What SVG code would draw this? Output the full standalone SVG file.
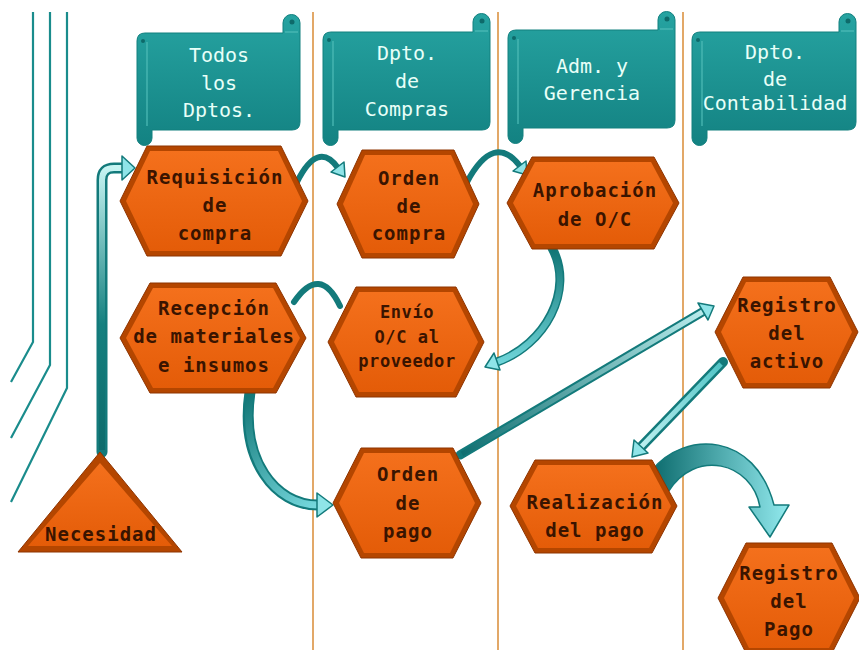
<svg xmlns="http://www.w3.org/2000/svg" width="859" height="650" viewBox="0 0 859 650">
<style>
.lane{stroke:#e2a868;stroke-width:2;fill:none}
.deco{stroke:#1a8c8c;stroke-width:2.2;fill:none}
.hdr{fill:url(#hg);stroke:#12807f;stroke-width:1}
.roll{stroke:#4fbcb8;stroke-width:1.2;fill:none}
.dot{fill:#0e6a6a}
.ht{font-family:"DejaVu Sans Mono","Liberation Mono",monospace;font-size:20px;fill:#e8fff8;text-anchor:middle}
.ho{fill:#b44600;stroke:#8e3400;stroke-width:1}
.hi{fill:url(#og)}
.nt{font-family:"DejaVu Sans Mono","Liberation Mono",monospace;font-size:19px;font-weight:bold;letter-spacing:1px;fill:#3a1400;text-anchor:middle}
.st{font-size:17px;letter-spacing:0.6px}
.cb{stroke:#137a7b;fill:none;stroke-linecap:round}
.ah{fill:#8fe4e8;stroke:#137a7b;stroke-width:1.5;stroke-linejoin:round}
</style>
<defs>
<linearGradient id="hg" x1="0" y1="0" x2="0" y2="1">
<stop offset="0" stop-color="#26a3a1"/>
<stop offset="1" stop-color="#138282"/>
</linearGradient>
<linearGradient id="og" x1="0" y1="0" x2="0" y2="1">
<stop offset="0" stop-color="#f4701c"/>
<stop offset="1" stop-color="#e45c08"/>
</linearGradient>
<linearGradient id="g1" gradientUnits="userSpaceOnUse" x1="0" y1="452" x2="0" y2="168">
<stop offset="0" stop-color="#0d6b6b"/>
<stop offset="0.45" stop-color="#15807f"/>
<stop offset="1" stop-color="#c6f4f2"/>
</linearGradient>
<linearGradient id="g4" gradientUnits="userSpaceOnUse" x1="0" y1="248" x2="0" y2="366">
<stop offset="0" stop-color="#0f7474"/>
<stop offset="1" stop-color="#72d8dc"/>
</linearGradient>
<linearGradient id="g6" gradientUnits="userSpaceOnUse" x1="245" y1="392" x2="330" y2="505">
<stop offset="0" stop-color="#0f7474"/>
<stop offset="1" stop-color="#7adde2"/>
</linearGradient>
<linearGradient id="g7" gradientUnits="userSpaceOnUse" x1="460" y1="455" x2="712" y2="306">
<stop offset="0" stop-color="#0f6e70"/>
<stop offset="1" stop-color="#bff0f0"/>
</linearGradient>
<linearGradient id="g8" gradientUnits="userSpaceOnUse" x1="723" y1="362" x2="633" y2="456">
<stop offset="0" stop-color="#4fc4c6"/>
<stop offset="1" stop-color="#c8f4f4"/>
</linearGradient>
<linearGradient id="g9" gradientUnits="userSpaceOnUse" x1="655" y1="0" x2="785" y2="0">
<stop offset="0" stop-color="#0f6e70"/>
<stop offset="1" stop-color="#8ee6ea"/>
</linearGradient>
</defs>

<rect x="0" y="0" width="859" height="650" fill="#ffffff"/>

<g id="lanes">
<line class="lane" x1="313" y1="12" x2="313" y2="650"/>
<line class="lane" x1="498" y1="12" x2="498" y2="650"/>
<line class="lane" x1="683" y1="12" x2="683" y2="650"/>
</g>

<g id="decoration">
<polyline class="deco" points="33,12 33,342 11,382"/>
<polyline class="deco" points="50,12 50,365 11,438"/>
<polyline class="deco" points="67,12 67,388 11,502"/>
</g>

<g id="header-todos">
<path class="hdr" d="M152,33 L283,33 L283,23 A8.5,8.5 0 0 1 300,23 L300,122 Q300,130 292,130 L152,130 L152,138 A7.5,7.5 0 0 1 137,138 L137,41 Q137,33 145,33 Z"/>
<line class="roll" x1="147" y1="42" x2="147" y2="126"/>
<line class="roll" x1="285" y1="32" x2="298" y2="32"/>
<circle class="dot" cx="143" cy="41" r="2"/>
<circle class="dot" cx="292" cy="22" r="2.5"/>
<text class="ht" x="219" y="62">Todos</text>
<text class="ht" x="219" y="90">los</text>
<text class="ht" x="219" y="117">Dptos.</text>
</g>

<g id="header-compras">
<path class="hdr" d="M338,32 L473,32 L473,22 A8.5,8.5 0 0 1 490,22 L490,122 Q490,130 482,130 L338,130 L338,138 A7.5,7.5 0 0 1 323,138 L323,40 Q323,32 331,32 Z"/>
<line class="roll" x1="333" y1="41" x2="333" y2="126"/>
<line class="roll" x1="475" y1="31" x2="488" y2="31"/>
<circle class="dot" cx="329" cy="40" r="2"/>
<circle class="dot" cx="482" cy="21" r="2.5"/>
<text class="ht" x="407" y="60">Dpto.</text>
<text class="ht" x="407" y="88">de</text>
<text class="ht" x="407" y="116">Compras</text>
</g>

<g id="header-gerencia">
<path class="hdr" d="M523,30 L658,30 L658,20 A8.5,8.5 0 0 1 675,20 L675,120 Q675,128 667,128 L523,128 L523,136 A7.5,7.5 0 0 1 508,136 L508,38 Q508,30 516,30 Z"/>
<line class="roll" x1="518" y1="39" x2="518" y2="124"/>
<line class="roll" x1="660" y1="29" x2="673" y2="29"/>
<circle class="dot" cx="514" cy="38" r="2"/>
<circle class="dot" cx="667" cy="19" r="2.5"/>
<text class="ht" x="592" y="73">Adm. y</text>
<text class="ht" x="592" y="100">Gerencia</text>
</g>

<g id="header-contabilidad">
<path class="hdr" d="M707,32 L839,32 L839,22 A8.5,8.5 0 0 1 856,22 L856,122 Q856,130 848,130 L707,130 L707,138 A7.5,7.5 0 0 1 692,138 L692,40 Q692,32 700,32 Z"/>
<line class="roll" x1="702" y1="41" x2="702" y2="126"/>
<line class="roll" x1="841" y1="31" x2="854" y2="31"/>
<circle class="dot" cx="698" cy="40" r="2"/>
<circle class="dot" cx="848" cy="21" r="2.5"/>
<text class="ht" x="775" y="59">Dpto.</text>
<text class="ht" x="775" y="86">de</text>
<text class="ht" x="775" y="110">Contabilidad</text>
</g>

<g id="connectors">
<path class="cb" d="M102,452 L102,180 Q102,168 114,168 L124,168" stroke-width="11" stroke-linecap="butt"/>
<path d="M102,450 L102,180 Q102,168 114,168 L124,168" fill="none" stroke="url(#g1)" stroke-width="6"/>
<polygon class="ah" points="135,168 122,156 122,180"/>
<path class="cb" d="M297,182 Q318,140 338,168" stroke-width="6"/>
<polygon class="ah" points="345,177 331,172 344,162"/>
<path class="cb" d="M467,182 Q494,132 520,166" stroke-width="6"/>
<polygon class="ah" points="527,175 513,171 526,161"/>
<path class="cb" d="M552,248 C575,290 545,345 497,362" stroke-width="9"/>
<path d="M552,250 C575,290 545,345 497,362" fill="none" stroke="url(#g4)" stroke-width="6"/>
<polygon class="ah" points="485,367 494,353 500,370"/>
<path class="cb" d="M340,306 Q320,264 294,302" stroke-width="6"/>
<path class="cb" d="M250,392 C240,460 275,505 318,505" stroke-width="11"/>
<path d="M250,394 C241,460 275,505 318,505" fill="none" stroke="url(#g6)" stroke-width="7"/>
<polygon class="ah" points="333,505 317,493 317,517"/>
<line class="cb" x1="460" y1="455" x2="704" y2="311" stroke-width="9"/>
<line x1="462" y1="454" x2="704" y2="311" stroke="url(#g7)" stroke-width="5"/>
<polygon class="ah" points="714,306 708,320 698,303"/>
<line class="cb" x1="723" y1="362" x2="641" y2="447" stroke-width="10"/>
<line x1="721" y1="364" x2="641" y2="447" stroke="url(#g8)" stroke-width="5"/>
<polygon class="ah" points="632,457 634,440 648,453"/>
<path d="M652,470 C685,430 755,432 774,505 L789,505 L770,537 L749,507 L760,507 C752,462 695,448 668,492 Z" fill="url(#g9)" stroke="#137a7b" stroke-width="1.5" stroke-linejoin="round"/>
</g>

<g id="node-necesidad">
<polygon class="ho" points="100,452 18,552 182,552"/>
<polygon class="hi" points="100,463 28,546 172,546"/>
<text class="nt" x="101" y="541">Necesidad</text>
</g>

<g id="node-requisicion">
<polygon class="ho" points="120,201 147,146 281,146 308,201 281,256 147,256"/>
<polygon class="hi" points="126,201 150,151 278,151 302,201 278,251 150,251"/>
<text class="nt" x="215" y="184">Requisición</text>
<text class="nt" x="215" y="212">de</text>
<text class="nt" x="215" y="240">compra</text>
</g>

<g id="node-recepcion">
<polygon class="ho" points="120,338 150,283 276,283 306,338 276,393 150,393"/>
<polygon class="hi" points="126,338 153,288 273,288 300,338 273,388 153,388"/>
<text class="nt" x="214" y="315">Recepción</text>
<text class="nt" x="214" y="343">de materiales</text>
<text class="nt" x="214" y="372">e insumos</text>
</g>

<g id="node-orden-compra">
<polygon class="ho" points="337,204 362,150 454,150 479,204 454,258 362,258"/>
<polygon class="hi" points="343,204 365,155 451,155 473,204 451,253 365,253"/>
<text class="nt" x="409" y="185">Orden</text>
<text class="nt" x="409" y="213">de</text>
<text class="nt" x="409" y="240">compra</text>
</g>

<g id="node-aprobacion">
<polygon class="ho" points="507,203 532,157 654,157 679,203 654,249 532,249"/>
<polygon class="hi" points="513,203 535,162 651,162 673,203 651,244 535,244"/>
<text class="nt" x="595" y="197">Aprobación</text>
<text class="nt" x="595" y="226">de O/C</text>
</g>

<g id="node-envio">
<polygon class="ho" points="328,342 356,287 456,287 484,342 456,397 356,397"/>
<polygon class="hi" points="334,342 359,292 453,292 478,342 453,392 359,392"/>
<text class="nt st" x="407" y="318">Envío</text>
<text class="nt st" x="407" y="343">O/C al</text>
<text class="nt st" x="407" y="367">proveedor</text>
</g>

<g id="node-orden-pago">
<polygon class="ho" points="333,503 361,448 453,448 481,503 453,558 361,558"/>
<polygon class="hi" points="339,503 364,453 450,453 475,503 450,553 364,553"/>
<text class="nt" x="408" y="481">Orden</text>
<text class="nt" x="408" y="510">de</text>
<text class="nt" x="408" y="538">pago</text>
</g>

<g id="node-realizacion">
<polygon class="ho" points="510,506 535,460 652,460 677,506 652,553 535,553"/>
<polygon class="hi" points="516,506 538,465 649,465 671,506 649,548 538,548"/>
<text class="nt" x="595" y="509">Realización</text>
<text class="nt" x="595" y="537">del pago</text>
</g>

<g id="node-registro-activo">
<polygon class="ho" points="715,332 743,277 830,277 858,332 830,388 743,388"/>
<polygon class="hi" points="721,332 746,282 827,282 852,332 827,383 746,383"/>
<text class="nt" x="787" y="312">Registro</text>
<text class="nt" x="787" y="340">del</text>
<text class="nt" x="787" y="368">activo</text>
</g>

<g id="node-registro-pago">
<polygon class="ho" points="718,598 746,543 832,543 860,598 832,653 746,653"/>
<polygon class="hi" points="724,598 749,548 829,548 854,598 829,648 749,648"/>
<text class="nt" x="789" y="580">Registro</text>
<text class="nt" x="789" y="608">del</text>
<text class="nt" x="789" y="636">Pago</text>
</g>
</svg>
